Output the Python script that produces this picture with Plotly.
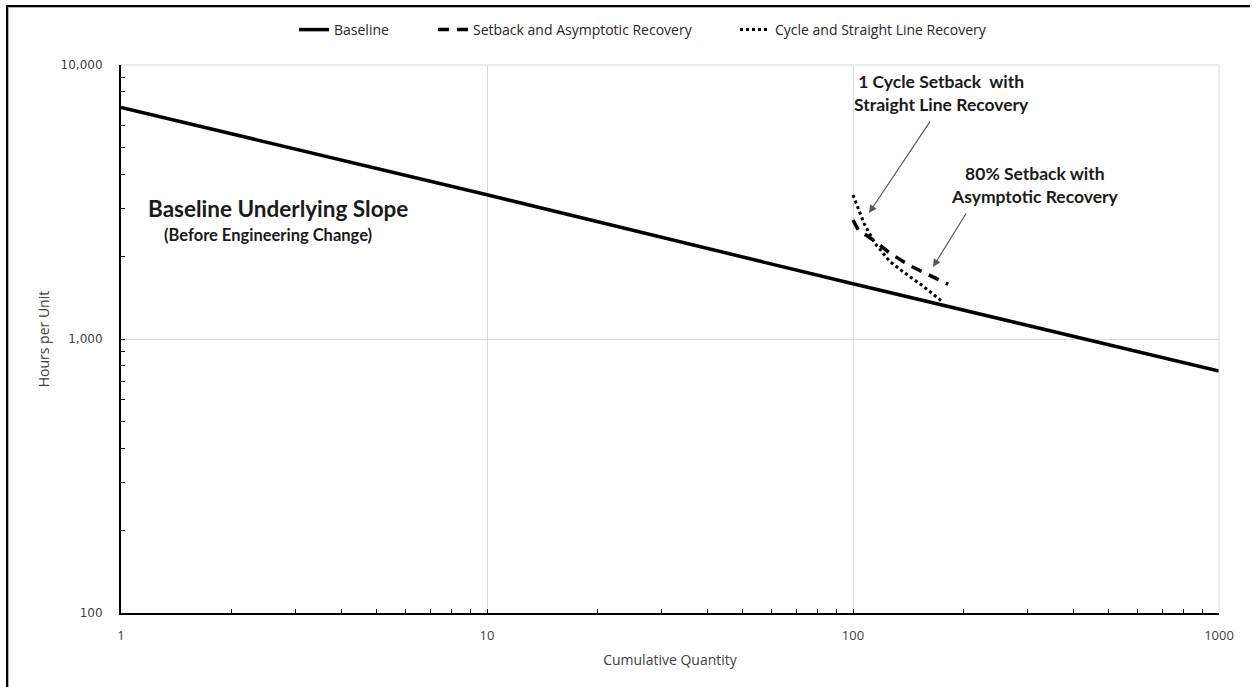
import plotly.graph_objects as go

# ---- data ----
baseline_x = [1, 10, 100, 1000]
baseline_y = [7000, 3360, 1590, 764]

setback_x = [100, 103.4, 112.5, 126.3, 143.2, 162.3, 182]
setback_y = [2717, 2500, 2318, 2055, 1851, 1702, 1584]

cycle_x = [100, 107.2, 114.8, 126.3, 138.7, 154, 176.5]
cycle_y = [3354, 2642, 2234, 1915, 1738, 1574, 1360]

x_ticks = [1, 10, 100, 1000]
x_tick_text = ["1", "10", "100", "1000"]
y_ticks = [100, 1000, 10000]
y_tick_text = ["100", "1,000", "10,000"]

minor_x = [m * d for d in (1, 10, 100) for m in range(2, 10)]
minor_y = [m * d for d in (100, 1000) for m in range(2, 10)]

FONT = "Lato, 'Open Sans', Arial, sans-serif"
WIDE = "'Open Sans', Lato, Arial, sans-serif"

L, R, T, B = 121, 33, 65, 74
W, H = 1252, 687
PW, PH = W - L - R, H - T - B


def px_x(p):
    return (p - L) / PW


def px_y(p):
    return (H - B - p) / PH


fig = go.Figure()
fig.add_trace(go.Scatter(x=baseline_x, y=baseline_y, mode="lines", name="Baseline",
                         legend="legend",
                         line=dict(color="black", width=3.5)))
fig.add_trace(go.Scatter(x=setback_x, y=setback_y, mode="lines",
                         name="Setback and Asymptotic Recovery", legend="legend2",
                         line=dict(color="black", width=3.5, dash="11px,8px")))
fig.add_trace(go.Scatter(x=cycle_x, y=cycle_y, mode="lines",
                         name="Cycle and Straight Line Recovery", legend="legend3",
                         line=dict(color="black", width=3, dash="dot")))

leg_common = dict(orientation="h", xanchor="left", yanchor="middle", y=px_y(30),
                  font=dict(size=14, color="#262626", family=WIDE),
                  bgcolor="rgba(255,255,255,0)", borderwidth=0)

fig.update_layout(
    width=W, height=H,
    margin=dict(l=L, r=R, t=T, b=B, autoexpand=False),
    paper_bgcolor="white", plot_bgcolor="white",
    font=dict(family=FONT, color="#404040", size=11),
    showlegend=True,
    legend=dict(x=px_x(294), **leg_common),
    legend2=dict(x=px_x(433), **leg_common),
    legend3=dict(x=px_x(735), **leg_common),
    xaxis=dict(type="log", range=[0, 3], tickmode="array", tickvals=x_ticks,
               ticktext=x_tick_text, showgrid=True, gridcolor="#d9d9d9", gridwidth=1,
               showline=True, linecolor="black", linewidth=2, ticks="inside",
               ticklen=4, tickcolor="black", mirror=False, zeroline=False,
               tickfont=dict(size=13, color="#404040", family=WIDE),
               ticklabelstandoff=9,
               minor=dict(tickmode="array", tickvals=minor_x, ticks="inside",
                          ticklen=4, tickcolor="black", showgrid=False),
               title=dict(text="Cumulative Quantity",
                          font=dict(size=14, color="#404040", family=WIDE),
                          standoff=13)),
    yaxis=dict(type="log", range=[2, 4], tickmode="array", tickvals=y_ticks,
               ticktext=y_tick_text, showgrid=True, gridcolor="#d9d9d9", gridwidth=1,
               showline=True, linecolor="black", linewidth=2, ticks="inside",
               ticklen=4, tickcolor="black", zeroline=False,
               tickfont=dict(size=12, color="#404040", family="'DejaVu Sans', Verdana, sans-serif"),
               ticklabelstandoff=14,
               minor=dict(tickmode="array", tickvals=minor_y, ticks="inside",
                          ticklen=4, tickcolor="black", showgrid=False),
               title=dict(text="Hours per Unit",
                          font=dict(size=14, color="#404040", family=WIDE),
                          standoff=8)),
)

# frame gridlines at right and top
fig.add_shape(type="line", xref="paper", yref="paper", x0=1, x1=1, y0=0, y1=1,
              line=dict(color="#d9d9d9", width=1))
fig.add_shape(type="line", xref="paper", yref="paper", x0=0, x1=1, y0=1, y1=1,
              line=dict(color="#d9d9d9", width=1))

# outer picture frame: left and top edges, drawn as thin filled bars
fig.add_shape(type="rect", xref="paper", yref="paper",
              x0=px_x(6), x1=px_x(8), y0=px_y(H + 5), y1=px_y(5),
              line=dict(width=0), fillcolor="black", layer="above")
fig.add_shape(type="rect", xref="paper", yref="paper",
              x0=px_x(6), x1=px_x(1250), y0=px_y(7), y1=px_y(5),
              line=dict(width=0), fillcolor="black", layer="above")
fig.add_shape(type="rect", xref="paper", yref="paper",
              x0=px_x(8), x1=px_x(9), y0=px_y(H + 5), y1=px_y(7),
              line=dict(width=0), fillcolor="#b0b0b0", layer="above")
fig.add_shape(type="rect", xref="paper", yref="paper",
              x0=px_x(8), x1=px_x(1250), y0=px_y(8), y1=px_y(7),
              line=dict(width=0), fillcolor="#b0b0b0", layer="above")

# text annotations
fig.add_annotation(x=0.43, y=3.477, xref="x", yref="y", showarrow=False,
                   text="<b>Baseline Underlying Slope</b>",
                   font=dict(size=22.5, color="#1a1a1a", family=FONT))
fig.add_annotation(x=0.402, y=3.38, xref="x", yref="y", showarrow=False,
                   text="<b>(Before Engineering Change)</b>",
                   font=dict(size=16.5, color="#1a1a1a", family=FONT))
fig.add_annotation(x=2.243, y=3.898, xref="x", yref="y", showarrow=False,
                   text="<b>1 Cycle Setback  with</b><br><b>Straight Line Recovery</b>",
                   font=dict(size=17.5, color="#1a1a1a", family=FONT), align="center")
fig.add_annotation(x=2.497, y=3.562, xref="x", yref="y", showarrow=False,
                   text="<b>80% Setback with</b><br><b>Asymptotic Recovery</b>",
                   font=dict(size=17.5, color="#1a1a1a", family=FONT), align="center")

# arrows
fig.add_annotation(x=2.0437, y=3.460, ax=2.213, ay=3.799, xref="x", yref="y",
                   axref="x", ayref="y", text="", showarrow=True, arrowhead=2,
                   arrowsize=1.3, arrowwidth=1.2, arrowcolor="#595959")
fig.add_annotation(x=2.2186, y=3.263, ax=2.3115, ay=3.4635, xref="x", yref="y",
                   axref="x", ayref="y", text="", showarrow=True, arrowhead=2,
                   arrowsize=1.3, arrowwidth=1.2, arrowcolor="#595959")

fig.write_html("out.html", config={"displayModeBar": False},
               post_script="document.body.style.margin='0';")
